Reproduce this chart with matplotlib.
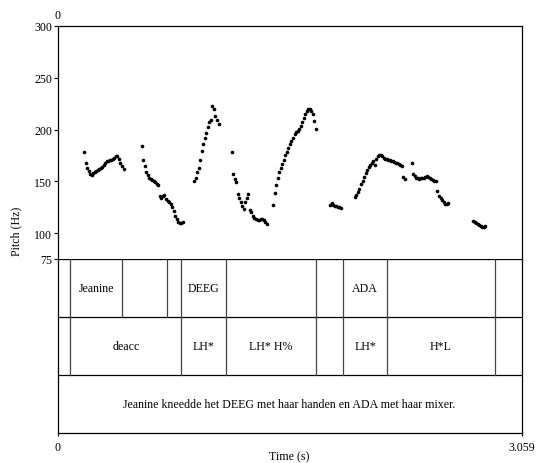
"""
Pitch track + TextGrid tiers (Praat-style picture)
"""

import matplotlib
matplotlib.use("Agg")
import matplotlib.pyplot as plt
import numpy as np

# Pitch frames (Hz), one value every FRAME_STEP seconds, per voiced stretch
FRAME_STEP = 0.01
SEG_STARTS = [0.175, 0.555, 0.901, 1.148, 1.422, 1.796, 1.960, 2.334, 2.740]

seg1_f0 = [178, 168, 163, 160, 157, 156, 158, 159, 160, 161, 162, 163, 164, 166,
           168, 170, 170, 171, 171, 172, 173, 174, 174, 172, 168, 165, 162]
seg2_f0 = [184, 171, 165, 159, 156, 153, 152, 151, 150, 149, 147, 146, 136, 134,
           136, 137, 133, 131, 130, 128, 125, 121, 117, 114, 111, 110, 110, 111]
seg3_f0 = [150, 153, 159, 163, 171, 179, 186, 192, 197, 202, 207, 209, 223, 220,
           213, 209, 205]
seg4_f0 = [178, 157, 152, 149, 138, 134, 130, 126, 123, 130, 134, 138, 122, 120,
           117, 115, 114, 113, 113, 114, 114, 113, 111, 109]
seg5_f0 = [127, 139, 146, 153, 159, 163, 167, 171, 175, 178, 182, 186, 189, 192,
           196, 198, 199, 201, 203, 207, 211, 215, 218, 220, 220, 218, 215, 208, 201]
seg6_f0 = [127, 129, 127, 126, 126, 125, 125, 124]
seg7_f0 = [135, 137, 140, 143, 147, 150, 154, 158, 161, 164, 166, 168, 170, 166,
           172, 174, 175, 175, 174, 173, 172, 172, 171, 171, 170, 170, 169, 168,
           168, 167, 166, 165, 154, 152]
seg8_f0 = [168, 157, 155, 153, 153, 152, 153, 153, 153, 154, 155, 154, 153, 152,
           151, 150, 150, 141, 136, 134, 132, 130, 128, 128, 129]
seg9_f0 = [112, 111, 110, 109, 108, 107, 106, 106, 107]

SEGMENTS = [seg1_f0, seg2_f0, seg3_f0, seg4_f0, seg5_f0, seg6_f0, seg7_f0, seg8_f0, seg9_f0]

DURATION = 3.059
PITCH_TICKS = [75, 100, 150, 200, 250, 300]

# TextGrid tiers: boundaries (s) and interval labels
words_bounds = [0.085, 0.427, 0.722, 0.817, 1.112, 1.701, 1.881, 2.173, 2.882]
words_labels = ["", "Jeanine", "", "", "DEEG", "", "", "ADA", "", ""]
tones_bounds = [0.085, 0.817, 1.112, 1.701, 1.881, 2.173, 2.882]
tones_labels = ["", "deacc", "LH*", "LH* H%", "", "LH*", "H*L", ""]
sentence = "Jeanine kneedde het DEEG met haar handen en ADA met haar mixer."

plt.rcParams['font.family'] = ['Liberation Serif', 'DejaVu Serif']
FS = 8.6

W, H = 536, 464
fig = plt.figure(figsize=(W / 100, H / 100), dpi=100)

x0, x1 = 57.5, 521.7
y_top, y_mid, y_bot = 27, 260, 434
ax = fig.add_axes([x0 / W, 1 - y_mid / H, (x1 - x0) / W, (y_mid - y_top) / H])
axt = fig.add_axes([x0 / W, 1 - y_bot / H, (x1 - x0) / W, (y_bot - y_mid) / H])

# --- pitch panel
for start, f0 in zip(SEG_STARTS, SEGMENTS):
    t = start + FRAME_STEP * np.arange(len(f0))
    ax.plot(t, f0, 'o', color='black', markersize=2.6, markeredgewidth=0)

ax.set_xlim(0, DURATION)
ax.set_ylim(75, 300)
ax.set_yticks(PITCH_TICKS)
ax.set_yticklabels([str(v) for v in PITCH_TICKS])
ax.set_xticks([])
ax.tick_params(axis='y', direction='out', length=3, width=0.8, pad=0.8, labelsize=FS)
ax.spines['bottom'].set_visible(False)
for s in ['left', 'top', 'right']:
    ax.spines[s].set_linewidth(0.9)

# --- tiers panel
axt.set_xlim(0, DURATION)
axt.set_ylim(0, 3)
axt.axhline(1, color='black', linewidth=0.9)
axt.axhline(2, color='black', linewidth=0.9)
axt.axhline(3, color='black', linewidth=0.9)
for b in words_bounds:
    axt.plot([b, b], [2, 3], color='#444444', linewidth=0.9)
for b in tones_bounds:
    axt.plot([b, b], [1, 2], color='#444444', linewidth=0.9)

edges = [0] + words_bounds + [DURATION]
for i, lab in enumerate(words_labels):
    if lab:
        axt.text((edges[i] + edges[i + 1]) / 2, 2.5, lab, ha='center', va='center', fontsize=FS)
edges = [0] + tones_bounds + [DURATION]
for i, lab in enumerate(tones_labels):
    if lab:
        axt.text((edges[i] + edges[i + 1]) / 2, 1.5, lab, ha='center', va='center', fontsize=FS)
axt.text(DURATION / 2, 0.5, sentence, ha='center', va='center', fontsize=FS)

axt.set_yticks([])
axt.set_xticks([0, DURATION])
axt.set_xticklabels(["0", "3.059"])
axt.tick_params(axis='x', direction='out', length=2.5, width=0.8, pad=3.5, labelsize=FS)
axt.spines['top'].set_visible(False)
for s in ['left', 'bottom', 'right']:
    axt.spines[s].set_linewidth(0.9)

# --- outer labels
fig.text(x0 / W, 1 - 16 / H, "0", ha='center', va='center', fontsize=FS)
fig.text(16 / W, 1 - 231 / H, "Pitch (Hz)", rotation=90, ha='center', va='center', fontsize=FS)
fig.text((x0 + x1) / 2 / W, 1 - 457 / H, "Time (s)", ha='center', va='center', fontsize=FS)

fig.savefig("out.png", dpi=100, facecolor='white')
